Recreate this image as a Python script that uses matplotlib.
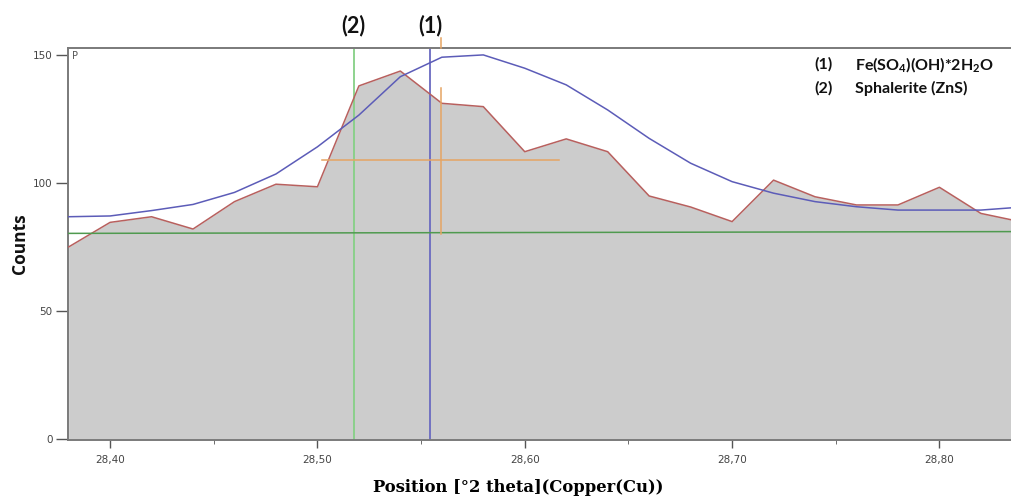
import numpy as np
import matplotlib
matplotlib.use("Agg")
import matplotlib.pyplot as plt
from matplotlib.ticker import MultipleLocator, FuncFormatter

# ---- data ----
two_theta = [28.38, 28.40, 28.42, 28.44, 28.46, 28.48, 28.50, 28.52, 28.54, 28.56,
             28.58, 28.60, 28.62, 28.64, 28.66, 28.68, 28.70, 28.72, 28.74, 28.76,
             28.78, 28.80, 28.82, 28.84]
observed = [74.9, 84.5, 86.7, 81.9, 92.6, 99.4, 98.4, 137.8, 143.6, 131.0,
            129.7, 112.1, 117.1, 112.1, 94.8, 90.5, 84.8, 101.0, 94.5, 91.3,
            91.3, 98.2, 88.0, 84.6]
profile = [86.7, 87.0, 89.1, 91.5, 96.2, 103.4, 114.0, 126.4, 141.4, 149.0,
           149.9, 144.7, 138.2, 128.4, 117.3, 107.6, 100.4, 95.9, 92.6, 90.6,
           89.3, 89.3, 89.3, 90.5]
background_x = [28.38, 28.84]
background_y = [80.2, 80.9]
peak_positions = [28.5544, 28.5174]      # (1), (2)
peak_labels = ["(1)", "(2)"]
fit_center = 28.5594
fit_halfwidth = 0.0572
fit_height = [80.0, 136.9]
fit_level = 108.7
legend_ids = ["(1)", "(2)"]
legend_names = ["Fe(SO$_4$)(OH)*2H$_2$O", "Sphalerite (ZnS)"]
xticks = [28.40, 28.50, 28.60, 28.70, 28.80]
yticks = [0, 50, 100, 150]

plt.rcParams['mathtext.fontset'] = 'custom'
plt.rcParams['mathtext.rm'] = 'Lato:bold'
plt.rcParams['mathtext.default'] = 'rm'

fig = plt.figure(figsize=(10.12, 5.0), dpi=100)
ax = fig.add_axes([0.0672, 0.12, 0.9328, 0.784])

ax.fill_between(two_theta, 0, observed, color="#cccccc", lw=0, zorder=1)
ax.plot(two_theta, observed, color="#b8605e", lw=1.1, zorder=3)
ax.plot(two_theta, profile, color="#5c5cb8", lw=1.1, zorder=4)
ax.plot(background_x, background_y, color="#4f9a4f", lw=1.1, zorder=3)

# reference lines
ax.axvline(peak_positions[1], color="#86d086", lw=1.3, zorder=2)
ax.axvline(peak_positions[0], color="#6a6ac0", lw=1.3, zorder=2)

# fitted peak marker (orange cross)
ax.plot([fit_center, fit_center], fit_height, color="#e6a463", lw=1.1, zorder=5)
ax.plot([fit_center - fit_halfwidth, fit_center + fit_halfwidth], [fit_level, fit_level],
        color="#e6a463", lw=1.1, zorder=5)
ax.plot([fit_center, fit_center], [152.6, 156.5], color="#e6a463", lw=1.1,
        clip_on=False, zorder=5)

ax.set_xlim(28.3797, 28.835)
ax.set_ylim(-0.5, 152.6)

ax.set_xticks(xticks)
ax.xaxis.set_minor_locator(MultipleLocator(0.05))
ax.xaxis.set_major_formatter(FuncFormatter(lambda v, p: f"{v:.2f}".replace(".", ",")))
ax.set_yticks(yticks)

for s in ["left", "bottom", "top"]:
    ax.spines[s].set_color("#7a7a7a")
    ax.spines[s].set_linewidth(1.4)
ax.spines["right"].set_visible(False)
ax.tick_params(axis="both", which="major", direction="out", color="#555555",
               labelcolor="#444444", labelsize=7.5, width=1.0)
ax.tick_params(axis="y", length=9, pad=2)
ax.tick_params(axis="x", length=6, pad=5)
ax.tick_params(axis="x", which="minor", length=3, color="#555555")

ax.text(0.004, 0.992, "P", transform=ax.transAxes, ha="left", va="top",
        fontsize=7, color="#555555")

# peak labels above axes
for pos, lab in zip(peak_positions, peak_labels):
    ax.text(pos, 161.4, lab, ha="center", va="center", fontsize=15.5,
            fontweight="bold", family="Lato", color="#111111", clip_on=False)

# legend-like text
for i, (lid, name) in enumerate(zip(legend_ids, legend_names)):
    y = 0.871 - i * 0.047
    fig.text(0.805, y, lid, ha="left", va="center", fontsize=11.5,
             fontweight="bold", family="Lato", color="#111111")
    fig.text(0.845, y, name, ha="left", va="center", fontsize=11.5,
             fontweight="bold", family="Lato", color="#111111")

fig.text(0.02, 0.513, "Counts", rotation=90, ha="center", va="center",
         fontsize=12.5, fontweight="bold", family="Open Sans", color="#111111")
fig.text(0.512, 0.026, "Position [°2 theta](Copper(Cu))", ha="center", va="center",
         fontsize=11.8, fontweight="bold", family="DejaVu Serif")

fig.savefig("out.png", dpi=100)
